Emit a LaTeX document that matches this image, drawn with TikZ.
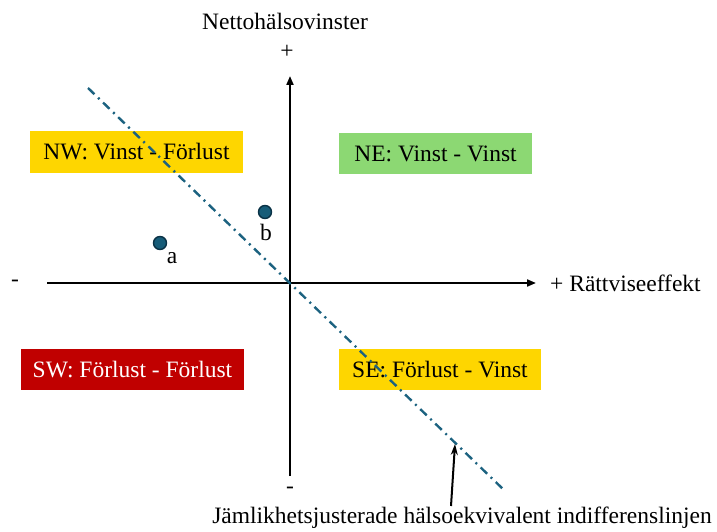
\documentclass[tikz,border=0pt]{standalone}
\usepackage{fontspec}
\setmainfont{Liberation Serif}
\usetikzlibrary{arrows.meta}
\definecolor{quadyellow}{RGB}{254,214,0}
\definecolor{quadgreen}{RGB}{140,216,115}
\definecolor{quadred}{RGB}{192,0,0}
\definecolor{lineblue}{RGB}{28,98,128}
\definecolor{dotfill}{RGB}{22,92,120}
\definecolor{dotedge}{RGB}{10,50,70}
\tikzset{
  quadbox/.style={minimum height=41pt, inner sep=0pt, font=\fontsize{23.5}{27}\selectfont},
  lbl/.style={inner sep=0pt, font=\fontsize{23.5}{27}\selectfont},
  axis/.style={line width=2pt, -{Triangle[length=9pt,width=7pt]}},
  indiff/.style={lineblue, line width=2.4pt, dash pattern=on 9pt off 5pt on 2pt off 5pt},
  obs/.style={circle, draw=dotedge, fill=dotfill, line width=1.4pt, minimum size=13pt, inner sep=0pt},
  pointer/.style={line width=2pt, -{Stealth[length=11pt,width=7pt]}}
}
\begin{document}
\begin{tikzpicture}[x=1pt,y=-1pt]
\useasboundingbox (0,0) rectangle (717,532);

% quadrant labels
\node[quadbox, fill=quadyellow, minimum width=213pt] (nw) at (136.5,152) {NW: Vinst - Förlust};
\node[quadbox, fill=quadgreen, minimum width=193pt] (ne) at (435.5,153.5) {NE: Vinst - Vinst};
\node[quadbox, fill=quadred, text=white, minimum width=223pt] (sw) at (132.5,369.5) {SW: Förlust - Förlust};
\node[quadbox, fill=quadyellow, minimum width=202pt] (se) at (440,369.5) {SE: Förlust - Vinst};

% axes
\coordinate (xl) at (47,283);
\coordinate (xr) at (536,283);
\coordinate (yb) at (290,476);
\coordinate (yt) at (290,76);
\draw[axis] (xl) -- (xr);
\draw[axis] (yb) -- (yt);

% axis labels
\node[lbl] (ytitle) at (285,21) {Nettohälsovinster};
\node[lbl] (yplus) at (287,52) {+};
\node[lbl] (yminus) at (290,490) {-};
\node[lbl] (xminus) at (15,283) {-};
\node[lbl, anchor=west] (xtitle) at (550,283) {+ Rättviseeffekt};

% indifference line
\coordinate (ia) at (88,88);
\coordinate (ib) at (505,491);
\draw[indiff] (ia) -- (ib);

% observations
\node[obs] (pa) at (160,243) {};
\node[obs] (pb) at (265,212) {};
\node[lbl] (la) at (172,258) {a};
\node[lbl] (lb) at (266,232) {b};

% caption and pointer
\node[lbl] (cap) at (462,518) {Jämlikhetsjusterade hälsoekvivalent indifferenslinjen};
\coordinate (tip) at (455,444);
\coordinate (tail) at (451,506);
\draw[pointer] (tail) -- (tip);
\end{tikzpicture}
\end{document}
